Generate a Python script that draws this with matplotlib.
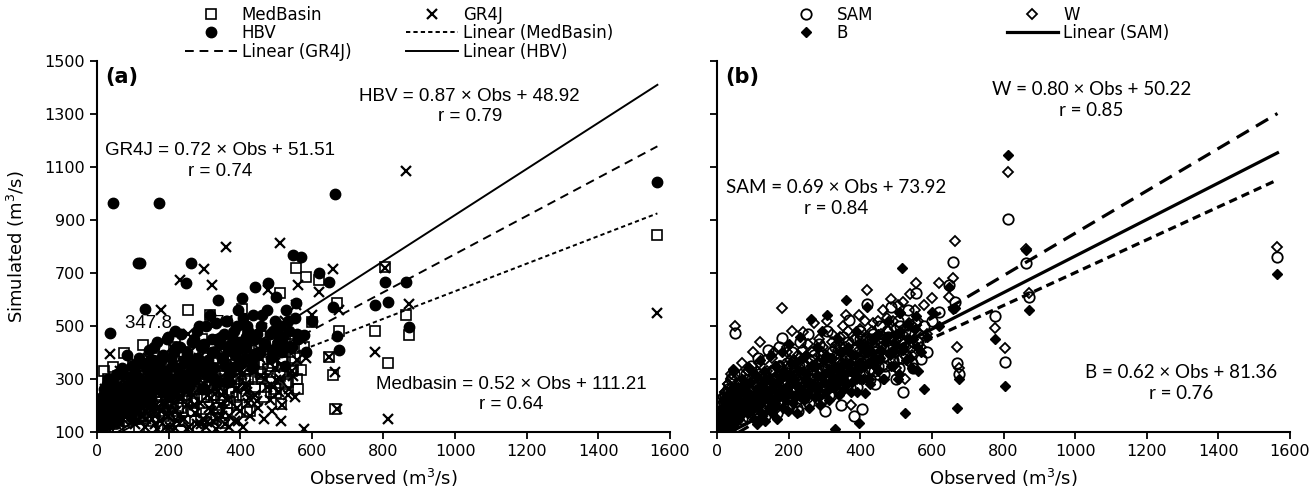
import numpy as np
import matplotlib
matplotlib.use('Agg')
import matplotlib.pyplot as plt

# observed discharge (m3/s), shared by all models
obs = [3, 5, 8, 10, 12, 14, 16, 18, 20, 22, 25, 28, 30, 32, 35, 38, 40, 43, 45, 48,
       50, 55, 58, 60, 65, 70, 75, 80, 85, 90, 95, 100, 105, 110, 115, 120, 128, 135, 142, 150,
       158, 165, 172, 180, 188, 195, 202, 210, 218, 225, 232, 240, 248, 255, 262, 270, 278, 285, 292, 300,
       308, 315, 322, 330, 338, 345, 352, 360, 368, 375, 382, 388, 395, 400, 405, 412, 418, 425, 432, 440,
       448, 455, 462, 470, 478, 485, 492, 500, 505, 510, 515, 520, 525, 532, 540, 548, 555, 562, 570, 578,
       585, 600, 620, 648, 660, 665, 670, 675,
       775, 805, 812, 862, 870, 1565,
       2, 4, 6, 7, 9, 11, 13, 15, 17, 19, 21, 24, 26, 29, 31, 34, 36, 39, 42, 46,
       52, 57, 62, 67, 72, 78, 83, 88, 93, 98, 103, 108, 113, 118, 124, 131, 138, 146, 154, 162,
       170, 178, 186, 194, 205, 215, 228, 238, 250, 265, 275, 290, 305, 318, 335, 350, 372, 392, 415, 438,
       102, 107, 112, 117, 122, 126, 133, 137, 144, 148, 153, 157, 163, 167, 174, 177, 183, 189, 192, 198,
       204, 208, 213, 220, 223, 230, 235, 242, 246, 252, 258, 264, 268, 273, 280, 283, 288, 295, 298, 303,
       310, 313, 320, 325, 328, 333, 340, 343, 348, 355, 358, 363, 366, 370, 378, 385, 390, 398, 403, 408,
       415, 422, 428, 435, 442, 450, 458, 466, 474, 482, 490, 498, 508, 512, 518, 528, 536, 545, 552, 558]

# panel (a) simulated
medbasin = [110, 130, 150, 120, 180, 140, 210, 160, 330, 120, 250, 190, 300, 140, 220, 170, 280, 130, 345, 240,
            150, 200, 310, 120, 260, 170, 398, 230, 140, 290, 190, 350, 160, 240, 310, 180, 428, 270, 210, 330,
            250, 380, 180, 300, 420, 220, 350, 270, 460, 190, 320, 400, 240, 560, 300, 210, 370, 280, 450, 330,
            230, 541, 290, 380, 200, 310, 134, 420, 250, 340, 290, 232, 470, 380, 564, 300, 175, 420, 350, 262,
            390, 326, 300, 430, 338, 250, 360, 246, 420, 625, 205, 380, 460, 290, 400, 334, 719, 262, 334, 421,
            685, 515, 674, 383, 315, 187, 587, 480,
            481, 723, 360, 541, 466, 843,
            105, 140, 125, 170, 115, 200, 150, 130, 180, 220, 160, 135, 240, 175, 120, 210, 265, 150, 190, 230,
            170, 250, 140, 205, 280, 185, 225, 160, 300, 245, 200, 170, 270, 215, 150, 310, 235, 190, 260, 175,
            230, 290, 160, 215, 195, 250, 140, 310, 215, 180, 260, 150, 340, 240, 190, 280, 210, 300, 330, 360,
            150, 210, 280, 120, 240, 190, 330, 160, 260, 220, 300, 140, 250, 350, 200, 280, 170, 310, 240, 130,
            280, 360, 210, 160, 330, 250, 190, 300, 140, 270, 350, 220, 180, 310, 260, 120, 290, 380, 230, 170,
            320, 270, 150, 360, 240, 300, 190, 410, 260, 220, 330, 170, 290, 390, 250, 310, 200, 360, 280, 240,
            420, 300, 180, 350, 270, 390, 320, 230, 400, 290, 350, 260, 410, 310, 370, 280, 430, 330, 380, 300]
gr4j = [100, 140, 120, 170, 110, 190, 130, 220, 150, 260, 120, 180, 230, 160, 394, 140, 210, 250, 170, 130,
        290, 190, 150, 240, 330, 200, 160, 280, 220, 170, 310, 240, 190, 360, 260, 210, 300, 180, 380, 240,
        300, 200, 350, 560, 260, 330, 180, 420, 115, 290, 674, 360, 250, 470, 320, 200, 428, 380, 260, 715,
        138, 340, 655, 243, 400, 290, 183, 798, 119, 350, 470, 260, 142, 400, 320, 520, 250, 228, 440, 360,
        217, 380, 492, 300, 636, 420, 270, 296, 460, 813, 142, 350, 520, 240, 413, 310, 579, 655, 450, 111,
        380, 540, 628, 383, 715, 326, 187, 560,
        400, 720, 150, 1085, 583, 549,
        110, 100, 150, 130, 180, 120, 160, 200, 140, 115, 230, 170, 125, 200, 150, 270, 135, 190, 240, 160,
        130, 210, 280, 175, 150, 240, 200, 320, 180, 140, 260, 220, 170, 300, 195, 240, 150, 280, 210, 130,
        250, 180, 300, 120, 270, 210, 160, 230, 110, 290, 200, 130, 260, 180, 150, 240, 300, 190, 270, 330,
        180, 130, 240, 300, 160, 210, 120, 270, 190, 340, 150, 230, 180, 110, 290, 140, 250, 200, 330, 160,
        120, 260, 310, 180, 140, 230, 380, 150, 270, 200, 120, 300, 240, 170, 130, 350, 210, 150, 280, 120,
        240, 190, 330, 140, 270, 110, 300, 200, 160, 250, 130, 380, 220, 160, 300, 140, 260, 180, 330, 120,
        280, 210, 160, 360, 240, 190, 310, 150, 270, 220, 180, 340, 250, 300, 200, 420, 260, 330, 230, 370]
hbv = [120, 150, 110, 180, 135, 210, 160, 125, 240, 190, 140, 260, 175, 300, 473, 215, 130, 280, 964, 200,
       165, 320, 230, 145, 270, 340, 190, 250, 390, 220, 160, 300, 350, 240, 738, 738, 280, 564, 330, 200,
       420, 260, 964, 380, 300, 450, 230, 350, 480, 310, 420, 280, 662, 380, 738, 450, 330, 500, 260, 430,
       350, 540, 400, 300, 598, 460, 370, 520, 290, 430, 480, 350, 560, 420, 606, 380, 500, 450, 340, 647,
       470, 400, 540, 430, 662, 380, 480, 610, 440, 500, 400, 460, 350, 520, 420, 768, 587, 450, 760, 466,
       400, 520, 700, 666, 572, 998, 462, 409,
       579, 666, 590, 666, 496, 1045,
       130, 170, 115, 200, 150, 140, 230, 180, 120, 260, 190, 150, 210, 280, 165, 135, 240, 200, 300, 170,
       220, 160, 260, 190, 320, 240, 175, 280, 215, 350, 250, 190, 310, 270, 220, 360, 290, 240, 330, 270,
       300, 370, 250, 330, 280, 400, 320, 270, 390, 340, 300, 420, 360, 310, 450, 380, 340, 420, 460, 390,
       260, 320, 200, 380, 290, 230, 350, 270, 410, 310, 250, 370, 300, 440, 260, 340, 390, 280, 320, 460,
       300, 380, 250, 420, 340, 290, 470, 360, 310, 400, 270, 440, 350, 300, 480, 380, 330, 420, 260, 500,
       370, 310, 450, 400, 340, 510, 290, 430, 380, 470, 350, 520, 410, 320, 460, 390, 500, 440, 360, 530,
       420, 480, 380, 540, 450, 400, 500, 430, 560, 470, 410, 520, 460, 500, 440, 560, 480, 420, 530, 470]

# panel (b) simulated
sam = [110, 140, 100, 160, 125, 180, 115, 200, 145, 230, 130, 170, 260, 120, 210, 150, 300, 135, 190, 318,
       473, 160, 240, 200, 280, 150, 230, 320, 180, 260, 350, 210, 290, 170, 380, 240, 300, 200, 410, 270,
       330, 250, 420, 455, 290, 360, 230, 400, 310, 180, 440, 350, 280, 470, 320, 390, 250, 430, 330, 180,
       480, 370, 290, 420, 340, 200, 460, 380, 523, 300, 160, 420, 350, 480, 185, 400, 583, 330, 450, 280,
       380, 500, 420, 350, 460, 572, 400, 300, 520, 440, 380, 250, 480, 560, 420, 340, 625, 440, 374, 500,
       400, 520, 553, 655, 742, 590, 360, 320,
       538, 362, 904, 738, 610, 760,
       120, 105, 150, 130, 175, 115, 160, 200, 140, 125, 220, 180, 150, 245, 135, 200, 170, 260, 190, 155,
       230, 210, 175, 280, 200, 250, 160, 300, 225, 190, 270, 240, 210, 320, 260, 200, 290, 240, 330, 270,
       220, 310, 280, 350, 250, 330, 290, 360, 230, 310, 270, 340, 300, 240, 380, 320, 270, 350, 400, 330,
       170, 220, 150, 260, 190, 240, 160, 280, 210, 250, 190, 300, 230, 170, 270, 320, 210, 250, 290, 200,
       340, 260, 230, 300, 190, 350, 280, 240, 320, 260, 210, 370, 300, 250, 330, 280, 220, 390, 310, 270,
       350, 240, 400, 320, 290, 360, 260, 420, 330, 280, 380, 300, 440, 350, 310, 410, 270, 450, 360, 320,
       420, 380, 300, 470, 400, 350, 430, 320, 480, 410, 370, 450, 340, 500, 430, 390, 470, 360, 510, 440]
w = [130, 110, 170, 140, 200, 120, 230, 160, 130, 250, 190, 140, 280, 210, 160, 320, 180, 250, 140, 330,
     500, 210, 170, 290, 230, 360, 190, 270, 330, 210, 300, 400, 250, 330, 200, 440, 280, 370, 240, 330,
     400, 300, 350, 568, 280, 420, 330, 480, 260, 390, 340, 477, 300, 430, 370, 510, 290, 450, 400, 220,
     520, 360, 470, 330, 410, 250, 500, 541, 390, 200, 450, 370, 540, 300, 460, 520, 636, 380, 480, 420,
     520, 440, 560, 380, 480, 600, 520, 340, 580, 460, 410, 590, 300, 500, 620, 437, 662, 520, 420, 580,
     470, 606, 662, 610, 680, 821, 420, 340,
     494, 418, 1081, 790, 625, 798,
     140, 120, 175, 150, 200, 130, 180, 230, 160, 140, 250, 205, 170, 280, 150, 230, 190, 300, 215, 175,
     260, 240, 200, 320, 230, 280, 185, 340, 255, 215, 310, 270, 240, 360, 290, 230, 330, 270, 380, 300,
     250, 350, 310, 400, 280, 370, 330, 410, 260, 350, 300, 390, 340, 270, 430, 360, 300, 400, 450, 370,
     190, 240, 170, 280, 210, 260, 180, 310, 230, 270, 210, 330, 250, 190, 300, 350, 230, 280, 320, 220,
     370, 290, 250, 330, 210, 380, 300, 270, 350, 290, 240, 400, 330, 280, 360, 310, 250, 420, 340, 300,
     380, 270, 440, 350, 320, 390, 290, 460, 360, 310, 420, 330, 480, 380, 340, 450, 300, 490, 400, 350,
     460, 420, 330, 510, 440, 380, 470, 350, 530, 450, 400, 490, 370, 550, 470, 420, 510, 390, 560, 480]
b = [100, 120, 145, 110, 160, 130, 190, 105, 220, 150, 115, 240, 170, 135, 200, 260, 155, 120, 336, 180,
     230, 140, 270, 190, 160, 300, 210, 250, 170, 340, 230, 190, 320, 260, 210, 370, 250, 300, 220, 390,
     280, 350, 230, 400, 320, 260, 430, 300, 360, 250, 460, 330, 390, 280, 526, 350, 420, 230, 480, 320,
     541, 380, 270, 110, 450, 350, 300, 598, 400, 250, 330, 480, 135, 360, 420, 248, 572, 300, 400, 350,
     470, 380, 300, 440, 520, 350, 400, 470, 300, 550, 719, 420, 173, 506, 380, 450, 538, 330, 400, 261,
     460, 553, 500, 647, 563, 568, 192, 300,
     450, 274, 1145, 787, 560, 696,
     105, 130, 115, 160, 125, 145, 190, 110, 170, 135, 200, 150, 175, 120, 215, 160, 240, 140, 185, 260,
     170, 220, 150, 250, 195, 270, 215, 180, 290, 235, 200, 310, 250, 220, 280, 330, 240, 300, 260, 350,
     290, 250, 330, 270, 360, 300, 240, 380, 320, 270, 350, 310, 390, 330, 280, 400, 360, 310, 420, 380,
     150, 200, 130, 240, 170, 220, 140, 260, 190, 230, 170, 280, 210, 150, 250, 300, 190, 230, 270, 180,
     320, 240, 210, 280, 170, 330, 260, 220, 300, 240, 190, 350, 280, 230, 310, 260, 200, 370, 290, 250,
     330, 220, 380, 300, 270, 340, 240, 400, 310, 260, 360, 280, 420, 330, 290, 390, 250, 430, 340, 300,
     400, 360, 280, 450, 380, 330, 410, 300, 460, 390, 350, 430, 320, 480, 410, 370, 450, 340, 490, 420]

# regression lines (slope, intercept)
fit_medbasin = (0.52, 111.21)
fit_gr4j = (0.72, 51.51)
fit_hbv = (0.87, 48.92)
fit_sam = (0.69, 73.92)
fit_w = (0.80, 50.22)
fit_b = (0.62, 81.36)

plt.rcParams['font.family'] = 'DejaVu Sans'

fig = plt.figure(figsize=(13.11, 4.93), dpi=100)
ax1 = fig.add_axes([0.074, 0.124, 0.437, 0.752])
ax2 = fig.add_axes([0.547, 0.124, 0.437, 0.752])

xline = np.array([0, max(obs)])

def trend(ax, fit, **kw):
    return ax.plot(xline, fit[0] * xline + fit[1], color='black', **kw)[0]

# ---- (a)
h_med, = ax1.plot(obs, medbasin, ls='none', marker='s', ms=7, mfc='none', mec='black', mew=1.2)
h_gr, = ax1.plot(obs, gr4j, ls='none', marker='x', ms=6.5, mec='black', mew=1.6)
h_hbv, = ax1.plot(obs, hbv, ls='none', marker='o', ms=7.5, mfc='black', mec='black')
l_med = trend(ax1, fit_medbasin, lw=1.4, ls=(0, (2.2, 1.6)))
l_gr = trend(ax1, fit_gr4j, lw=1.4, ls=(0, (4.5, 3)))
l_hbv = trend(ax1, fit_hbv, lw=1.4)

eq_a = dict(family='Liberation Sans', fontsize=13.5, ha='center', va='center', linespacing=1.25)
ax1.text(1041, 1330, 'HBV = 0.87 × Obs + 48.92\nr = 0.79', **eq_a)
ax1.text(343, 1123, 'GR4J = 0.72 × Obs + 51.51\nr = 0.74', **eq_a)
ax1.text(1156, 240, 'Medbasin = 0.52 × Obs + 111.21\nr = 0.64', **eq_a)
ax1.text(78, 511, '347.8      274', ha='left', va='center', family='Liberation Sans', fontsize=13.5, zorder=1)
ax1.text(0.015, 0.985, '(a)', transform=ax1.transAxes, fontsize=15, fontweight='bold', va='top')

fig.legend([h_med, h_hbv, l_gr, h_gr, l_med, l_hbv],
           ['MedBasin', 'HBV', 'Linear (GR4J)', 'GR4J', 'Linear (MedBasin)', 'Linear (HBV)'],
           ncol=2, loc='upper left', bbox_to_anchor=(0.141, 0.988), frameon=False, fontsize=12,
           handlelength=3.1, handletextpad=0.3, columnspacing=3.3, labelspacing=0.02,
           borderpad=0, borderaxespad=0)

# ---- (b)
h_sam, = ax2.plot(obs, sam, ls='none', marker='o', ms=7.5, mfc='none', mec='black', mew=1.3)
h_w, = ax2.plot(obs, w, ls='none', marker='D', ms=5.5, mfc='none', mec='black', mew=1.3)
h_b, = ax2.plot(obs, b, ls='none', marker='D', ms=5.5, mfc='black', mec='black')
trend(ax2, fit_w, lw=2.3, ls=(0, (4.4, 2.6)))
l_sam = trend(ax2, fit_sam, lw=2.3)
trend(ax2, fit_b, lw=2.3, ls=(0, (2.6, 1.6)))

eq_b = dict(family='Lato', fontsize=13.5, ha='center', va='center', linespacing=1.3)
ax2.text(1045, 1353, 'W = 0.80 × Obs + 50.22\nr = 0.85', **eq_b)
ax2.text(333, 983, 'SAM = 0.69 × Obs + 73.92\nr = 0.84', **eq_b)
ax2.text(1297, 285, 'B = 0.62 × Obs + 81.36\nr = 0.76', **eq_b)
ax2.text(0.015, 0.985, '(b)', transform=ax2.transAxes, fontsize=15, fontweight='bold', va='top')

fig.legend([h_sam, h_b, h_w, l_sam], ['SAM', 'B', 'W', 'Linear (SAM)'],
           ncol=2, loc='upper left', bbox_to_anchor=(0.595, 0.988), frameon=False, fontsize=12,
           handlelength=3.1, handletextpad=0.3, columnspacing=8.0, labelspacing=0.02,
           borderpad=0, borderaxespad=0)

for ax in (ax1, ax2):
    ax.set_xlim(0, 1600)
    ax.set_ylim(100, 1500)
    ax.set_xticks(np.arange(0, 1601, 200))
    ax.set_yticks(np.arange(100, 1501, 200))
    for s in ('top', 'right'):
        ax.spines[s].set_visible(False)
    for s in ('left', 'bottom'):
        ax.spines[s].set_linewidth(1.5)
    ax.tick_params(direction='out', length=5, width=1.3, labelsize=11.5)
    ax.set_xlabel('Observed (m$^3$/s)', fontsize=13, labelpad=6)
ax2.tick_params(axis='y', labelleft=False)
fig.text(0.012, 0.5, 'Simulated (m$^3$/s)', rotation=90, va='center', ha='center', fontsize=13)

fig.savefig('out.png', dpi=100)
